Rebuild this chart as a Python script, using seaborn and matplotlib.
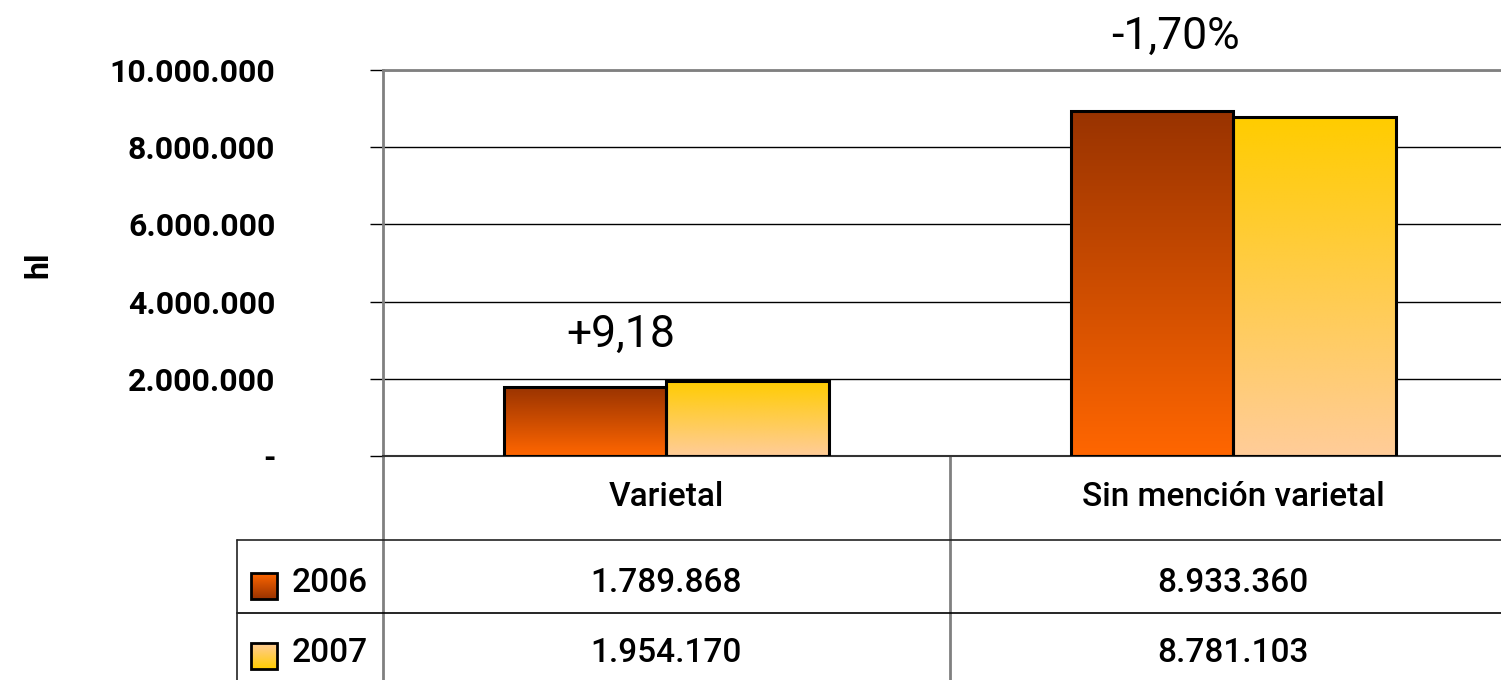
import numpy as np
import pandas as pd
import seaborn as sns
import matplotlib.pyplot as plt
from matplotlib.colors import to_rgb

# Datos
categorias = ['Varietal', 'Sin mención varietal']
anios = ['2006', '2007']
valores_2006 = [1789868, 8933360]
valores_2007 = [1954170, 8781103]
variaciones = ['+9,18', '-1,70%']
ticks_y = [0, 2000000, 4000000, 6000000, 8000000, 10000000]

# colores del degradado (arriba, abajo)
colores = {'2006': ('#993300', '#FF6600'), '2007': ('#FFCC00', '#FFCC99')}

df = pd.DataFrame({
    'categoria': categorias * 2,
    'anio': [anios[0]] * 2 + [anios[1]] * 2,
    'hl': valores_2006 + valores_2007,
})

sns.set_style('white')
plt.rcParams['font.family'] = ['Roboto', 'DejaVu Sans']
plt.rcParams['text.color'] = 'black'
plt.rcParams['ytick.labelcolor'] = 'black'

W, H = 1501, 680
fig = plt.figure(figsize=(W / 100, H / 100), dpi=100)


def px(x0, y0, x1, y1):
    # caja en pixeles (origen arriba a la izquierda) -> fraccion de figura
    return [x0 / W, 1 - y1 / H, (x1 - x0) / W, (y1 - y0) / H]


def degradado(ax, x0, x1, y0, y1, arriba, abajo, clip=None, z=2):
    c1, c2 = np.array(to_rgb(arriba)), np.array(to_rgb(abajo))
    t = np.linspace(0, 1, 100)[:, None]
    img = (c1 * (1 - t) + c2 * t)[:, None, :]
    im = ax.imshow(img, extent=[x0, x1, y0, y1], origin='upper',
                   aspect='auto', zorder=z, interpolation='bilinear')
    if clip is not None:
        im.set_clip_path(clip)
    return im


ax = fig.add_axes(px(383, 70, 1501, 456))
sns.barplot(data=df, x='categoria', y='hl', hue='anio', order=categorias,
            hue_order=anios, width=0.572, palette=['#CC4400', '#FFCC66'],
            edgecolor='black', linewidth=2.2, legend=False, ax=ax)

# degradado en cada barra
for i, cont in enumerate(ax.containers):
    arriba, abajo = colores[anios[i]]
    for p in cont.patches:
        x0, y0 = p.get_x(), p.get_y()
        w, h = p.get_width(), p.get_height()
        degradado(ax, x0, x0 + w, y0, y0 + h, arriba, abajo, clip=p, z=p.get_zorder() - 0.1)
        p.set_facecolor('none')
        p.set_zorder(3)

ax.set_xlim(-0.5, 1.472)
ax.set_ylim(0, 10000000)
ax.set_yticks(ticks_y)
ax.set_yticklabels(['-' if v == 0 else f'{v:,}'.replace(',', '.') for v in ticks_y],
                   fontsize=23, fontweight='bold')
ax.tick_params(axis='y', direction='out', length=9.5, width=1, color='black', pad=68, left=True)
ax.set_xticks([])
ax.set_xlabel('')
ax.set_ylabel('')
ax.grid(axis='y', color='black', linewidth=1)
ax.set_axisbelow(True)
for s in ['left', 'top']:
    ax.spines[s].set_color('#808080')
    ax.spines[s].set_linewidth(2)
ax.spines['right'].set_visible(False)
ax.spines['bottom'].set_color('#333333')
ax.spines['bottom'].set_linewidth(1.5)

# variaciones sobre las barras
desplaz = [(-33, 24), (-42, 45)]
for i, txt in enumerate(variaciones):
    alto = max(valores_2006[i], valores_2007[i])
    ax.annotate(txt, (i, alto), xytext=desplaz[i], textcoords='offset points',
                ha='center', va='baseline', fontsize=32, annotation_clip=False)

fig.text(38 / W, 1 - 265 / H, 'hl', rotation=90, ha='center', va='center',
         fontsize=23, fontweight='bold')

# tabla de datos debajo del grafico
tab = fig.add_axes([0, 0, 1, 1], zorder=-1)
tab.set_xlim(0, W)
tab.set_ylim(H, 0)
tab.axis('off')
gris = '#808080'
tab.plot([383, 383], [456, H], color=gris, lw=2)
tab.plot([950, 950], [456, H], color=gris, lw=2)
tab.plot([237, W], [540, 540], color='#222222', lw=1.2)
tab.plot([237, W], [613, 613], color='black', lw=1.2)
tab.plot([237, 237], [540, H], color='#222222', lw=1.2)

centros = [666, 1233]
for c, cat in zip(centros, categorias):
    tab.text(c, 497, cat, ha='center', va='center', fontsize=24, fontweight='medium')
filas = [(583, valores_2006), (653, valores_2007)]
for (y, vals), anio in zip(filas, anios):
    for c, v in zip(centros, vals):
        tab.text(c, y, f'{v:,}'.replace(',', '.'), ha='center', va='center',
                 fontsize=24, fontweight='medium')
    tab.text(292, y, anio, ha='left', va='center', fontsize=24, fontweight='medium')
    arriba, abajo = colores[anio]
    degradado(tab, 251, 277, y - 10, y + 16, arriba, abajo, z=2)
    tab.add_patch(plt.Rectangle((251, y + 16), 26, -26, fill=False,
                                edgecolor='black', lw=2, zorder=3))
tab.set_xlim(0, W)
tab.set_ylim(H, 0)

fig.savefig('out.png', dpi=100)
